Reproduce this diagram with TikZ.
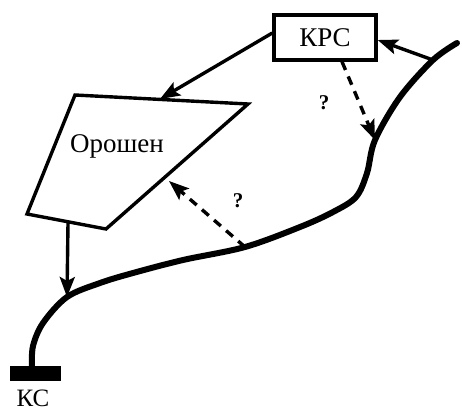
\documentclass[tikz,border=0pt]{standalone}
\usepackage{fontspec}
\setmainfont{Liberation Serif}
\usetikzlibrary{arrows.meta}
\begin{document}
\begin{tikzpicture}[x=1pt,y=-1pt,
  lbl/.style={font=\fontsize{27}{30}\selectfont, inner sep=0pt},
  qlbl/.style={font=\fontsize{21}{23}\selectfont\bfseries, inner sep=0pt},
  conn/.style={line width=3.4pt, -{Stealth[length=20pt,width=15pt,inset=4pt]}},
  dconn/.style={conn, dash pattern=on 9pt off 7pt},
  river/.style={line width=6pt, line cap=round, line join=round},
  outline/.style={line width=3.4pt, line join=miter}]
\useasboundingbox (0,0) rectangle (462,412);
% river
\coordinate (rTop) at (457,43);
\coordinate (rA) at (433,60);
\coordinate (rB) at (375,140);
\coordinate (rC) at (245,247);
\coordinate (rD) at (67,297);
\coordinate (rEnd) at (32,366);
\draw[river] plot[smooth, tension=0.55] coordinates {(457,43) (433,60) (400,97) (375,140) (367,173) (356,197) (333,212) (300,227) (245,247) (183,260) (133,273) (100,283) (67,297) (43,323) (33,346) (32,366)};
% KC bar
\fill (10,366) rectangle (61,381);
\node[lbl, font=\fontsize{25}{28}\selectfont, anchor=base] (kc) at (33,406) {КС};
% KPC box
\node[lbl, draw, line width=3.4pt, minimum width=102pt, minimum height=45pt, inner sep=0pt] (krs) at (325,37.5) {КРС};
% polygon
\coordinate (p1) at (75,95);
\coordinate (p2) at (248,104);
\coordinate (p3) at (106,229);
\coordinate (p4) at (27,214);
\draw[outline] (p1) -- (p2) -- (p3) -- (p4) -- cycle;
\node[lbl] (oro) at (117,146) {Орошен};
% connectors
\coordinate (topIn) at (160,99);
\coordinate (sideIn) at (169,181);
\coordinate (polyBot) at (68,223);
\draw[conn] (rA) -- (krs.east |- 0,40);
\draw[conn] (krs.west |- 0,33) -- (topIn);
\draw[conn] (polyBot) -- (rD);
\draw[dconn] (krs.south -| 342,0) -- (rB);
\draw[dconn] (rC) -- (sideIn);
\node[qlbl] (q1) at (324,103) {?};
\node[qlbl] (q2) at (238,201) {?};
\end{tikzpicture}
\end{document}
